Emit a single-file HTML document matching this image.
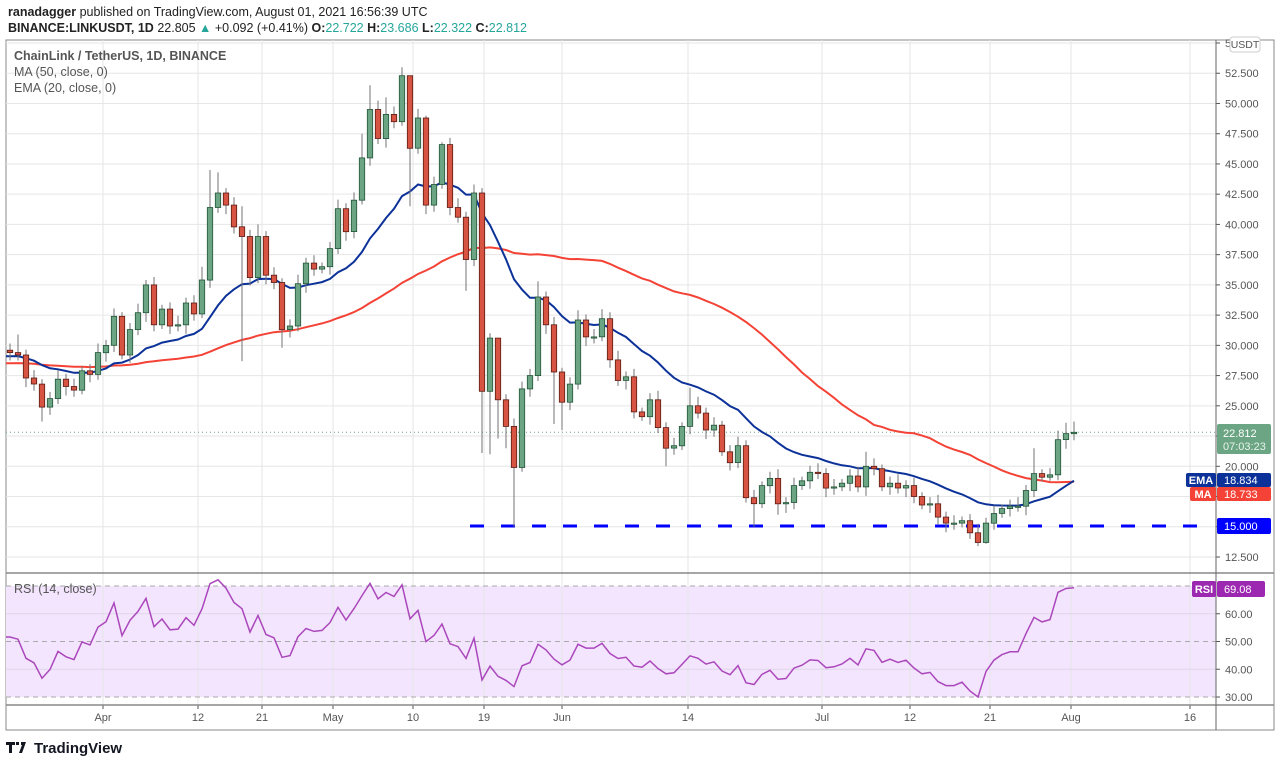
<!DOCTYPE html>
<html><head><meta charset="utf-8">
<style>
html,body{margin:0;padding:0;background:#fff;}
body{width:1280px;height:765px;overflow:hidden;font-family:"Liberation Sans",sans-serif;}
svg text{font-family:"Liberation Sans",sans-serif;}
</style></head>
<body>
<svg id="s" width="1280" height="765" xmlns="http://www.w3.org/2000/svg">
<text x="8" y="16" font-size="12.5" fill="#222"><tspan font-weight="bold">ranadagger</tspan> published on TradingView.com, August 01, 2021 16:56:39 UTC</text>
<text x="8" y="32" font-size="12.5" fill="#222"><tspan font-weight="bold">BINANCE:LINKUSDT, 1D</tspan>  22.805 <tspan fill="#26a69a">▲</tspan> +0.092 (+0.41%) <tspan font-weight="bold">O:</tspan><tspan fill="#26a69a">22.722</tspan> <tspan font-weight="bold">H:</tspan><tspan fill="#26a69a">23.686</tspan> <tspan font-weight="bold">L:</tspan><tspan fill="#26a69a">22.322</tspan> <tspan font-weight="bold">C:</tspan><tspan fill="#26a69a">22.812</tspan></text>
<g id="g"></g>
<text x="34" y="753" font-size="15" font-weight="bold" fill="#131722">TradingView</text>
<path d="M6 742h9v3h-3v8h-3v-8h-3z M16 742h3v3h-3z M21 742h5l-4 11h-3l3-8h-1z" fill="#131722"/>
</svg>
<script>
var closes=[29.4,29.2,27.3,26.8,24.9,25.6,27.2,26.6,26.3,27.9,27.6,29.4,30.0,32.4,29.2,31.3,32.7,35.0,31.7,33.0,31.6,31.7,33.5,32.6,35.4,41.4,42.6,41.6,39.8,39.0,35.6,39.0,35.8,35.2,31.3,31.6,35.1,36.8,36.3,36.5,38.0,41.3,39.4,42.0,45.5,49.5,47.1,49.1,48.5,52.3,46.3,48.8,41.6,43.3,46.6,41.4,40.6,37.1,42.6,26.2,30.6,25.5,23.3,19.9,26.4,27.5,34.0,31.7,27.8,25.3,26.8,32.1,30.7,30.7,32.2,28.8,27.1,27.4,24.5,24.1,25.5,23.2,21.5,21.7,23.3,25.0,24.4,23.0,23.4,21.2,20.3,21.7,17.4,16.9,18.4,19.0,16.9,17.0,18.4,18.8,19.5,19.4,18.2,18.3,18.6,19.2,18.3,20.0,19.8,18.3,18.6,18.2,18.4,17.5,16.8,16.9,15.8,15.3,15.3,15.5,14.5,13.7,15.3,16.1,16.5,16.7,16.7,18.0,19.4,19.1,19.3,22.2,22.7,22.812];
var hiO={2:30.9,5:27.2,18:35.4,25:36.5,26:44.5,27:44.3,28:43,30:41.5,32:40,45:47.5,46:51.5,48:50.5,50:53,51:50.1,53:49,55:46.8,59:43.3,60:43,61:31,62:30.5,65:27,67:35.3,72:32.9,75:33,86:26.5,108:21.2,129:21.5,133:23.6,134:23.7};
var loO={5:23.7,30:28.7,35:29.8,51:41.5,58:34.5,60:21.1,61:21,62:22.3,63:21.5,64:15,69:23.5,70:23,83:20,93:17,94:15,97:16,117:15.2,121:14,122:13.4,123:13.6,131:18.8};
function py(p){return 557-(p-12.5)*12.094;}
function ry(r){return 697-(r-30)*2.775;}
function cx(i){return 10+(i-1)*8.0;}
var h='';
// backgrounds
h+='<rect x="6" y="40" width="1268" height="690" fill="#fff" stroke="#888" stroke-width="1"/>';
// RSI band
h+='<rect x="6" y="586" width="1210" height="111" fill="#f3e5fd"/>';
// vertical grid
var vx=[103,198,262,333,413,484,562,688,822,910,990,1071,1190];
var vl=['Apr','12','21','May','10','19','Jun','14','Jul','12','21','Aug','16'];
for(var k=0;k<vx.length;k++){h+='<line x1="'+vx[k]+'" y1="40" x2="'+vx[k]+'" y2="705" stroke="#e6e6e6"/>';
h+='<line x1="'+vx[k]+'" y1="705" x2="'+vx[k]+'" y2="709" stroke="#555"/>';
h+='<text x="'+vx[k]+'" y="721" font-size="11" fill="#555" text-anchor="middle">'+vl[k]+'</text>';}
// horizontal grid price
for(var p=12.5;p<=55.01;p+=2.5){var y=py(p);if(y>40){h+='<line x1="6" y1="'+y+'" x2="1216" y2="'+y+'" stroke="#e6e6e6"/>';}
h+='<line x1="1216" y1="'+y+'" x2="1220" y2="'+y+'" stroke="#555"/>';
h+='<text x="1225" y="'+(y+4)+'" font-size="11" fill="#555">'+p.toFixed(3)+'</text>';}
// RSI grid
[70,60,50,40,30].forEach(function(r){var y=ry(r);var d=(r==70||r==50||r==30);
h+='<line x1="6" y1="'+y+'" x2="1216" y2="'+y+'" stroke="'+(d?'#aaa':'#e0d6e8')+'" '+(d?'stroke-dasharray="5,4"':'')+'/>';
if(r<70){h+='<line x1="1216" y1="'+y+'" x2="1220" y2="'+y+'" stroke="#555"/><text x="1225" y="'+(y+4)+'" font-size="11" fill="#555">'+r.toFixed(2)+'</text>';}});
// pane borders
h+='<line x1="6" y1="573" x2="1274" y2="573" stroke="#888" stroke-width="1.5"/>';
h+='<line x1="6" y1="705" x2="1274" y2="705" stroke="#888" stroke-width="1.5"/>';
h+='<line x1="1216" y1="40" x2="1216" y2="730" stroke="#666"/>';
// 15 support dashed
h+='<line x1="470" y1="526" x2="1200" y2="526" stroke="#0000ff" stroke-width="3" stroke-dasharray="14,17"/>';
// current price dotted
h+='<line x1="6" y1="'+py(22.812)+'" x2="1216" y2="'+py(22.812)+'" stroke="#6ba583" stroke-dasharray="1,3"/>';
// MA/EMA
var n=closes.length,ema=[],ma=[],e=29.2;var all=[];for(var i=0;i<49;i++)all.push(28.5);all=all.concat(closes);
for(var i=0;i<n;i++){e=i==0?29.1:e+(closes[i]-e)*2/21;ema.push(e);var s=0;for(var j=i;j<i+50;j++)s+=all[j];ma.push(s/50);}
function pl(arr,f){var d='';for(var i=0;i<arr.length;i++)d+=(i?'L':'M')+cx(i+1).toFixed(1)+' '+f(arr[i]).toFixed(1);return d;}
h+='<path d="M6 '+py(ma[0]).toFixed(1)+'L'+pl(ma,py).slice(1)+'" fill="none" stroke="#f44336" stroke-width="2"/>';
h+='<path d="M6 '+py(ema[0]).toFixed(1)+'L'+pl(ema,py).slice(1)+'" fill="none" stroke="#0c3299" stroke-width="2"/>';
// candles
var o=29.6;
for(var i=0;i<n;i++){var c=closes[i],idx=i+1,x=cx(idx);var up=c>=o;
var hi=hiO[idx]!==undefined?hiO[idx]:Math.max(o,c)+0.35+0.4*((idx*7)%5)/4;
var lo=loO[idx]!==undefined?loO[idx]:Math.min(o,c)-0.35-0.4*((idx*3)%5)/4;
h+='<line x1="'+x+'" y1="'+py(hi).toFixed(1)+'" x2="'+x+'" y2="'+py(lo).toFixed(1)+'" stroke="#737375"/>';
var t=py(Math.max(o,c)),b=py(Math.min(o,c));if(b-t<1.2)b=t+1.2;
h+='<rect x="'+(x-2.7)+'" y="'+t.toFixed(1)+'" width="5.4" height="'+(b-t).toFixed(1)+'" fill="'+(up?'#6ba583':'#d75442')+'" stroke="'+(up?'#225437':'#5b1a13')+'" stroke-width="0.8"/>';
o=c;}
// RSI
var ag=0.55,al=0.5,rs=[],prev=29.6;
for(var i=0;i<n;i++){var d=closes[i]-prev;prev=closes[i];var g=d>0?d:0,l=d<0?-d:0;ag=(ag*13+g)/14;al=(al*13+l)/14;var r=100-100/(1+ag/al);rs.push(r);}
h+='<path d="M6 '+ry(rs[0]).toFixed(1)+'L'+pl(rs,function(r){return ry(Math.max(30,Math.min(82,r)));}).slice(1)+'" fill="none" stroke="#ab47bc" stroke-width="1.5"/>';
// legends
h+='<text x="14" y="60" font-size="12.5" fill="#555" font-weight="bold">ChainLink / TetherUS, 1D, BINANCE</text>';
h+='<text x="14" y="76" font-size="12.5" fill="#555">MA (50, close, 0)</text>';
h+='<text x="14" y="92" font-size="12.5" fill="#555">EMA (20, close, 0)</text>';
h+='<text x="14" y="593" font-size="12.5" fill="#555">RSI (14, close)</text>';
// right labels
h+='<rect x="1230" y="37" width="30" height="15" rx="3" fill="#fff" stroke="#ccc"/><text x="1245" y="48" font-size="10.5" fill="#555" text-anchor="middle">USDT</text>';
h+='<rect x="1217" y="424" width="54" height="30" rx="2" fill="#6ba583"/><text x="1223" y="437" font-size="11" fill="#fff">22.812</text><text x="1223" y="450" font-size="11" fill="#e8f3ec">07:03:23</text>';
h+='<rect x="1186" y="473" width="30" height="14" rx="2" fill="#0c3299"/><text x="1201" y="484" font-size="11" fill="#fff" text-anchor="middle" font-weight="bold">EMA</text>';
h+='<rect x="1217" y="473" width="54" height="14" rx="2" fill="#0c3299"/><text x="1224" y="484" font-size="11" fill="#fff">18.834</text>';
h+='<rect x="1190" y="487" width="26" height="14" rx="2" fill="#f44336"/><text x="1203" y="498" font-size="11" fill="#fff" text-anchor="middle" font-weight="bold">MA</text>';
h+='<rect x="1217" y="487" width="54" height="14" rx="2" fill="#f44336"/><text x="1224" y="498" font-size="11" fill="#fff">18.733</text>';
h+='<rect x="1217" y="518" width="54" height="16" rx="2" fill="#0000ff"/><text x="1224" y="530" font-size="11" fill="#fff">15.000</text>';
h+='<rect x="1192" y="581" width="24" height="16" rx="2" fill="#9c27b0"/><text x="1204" y="593" font-size="11" fill="#fff" text-anchor="middle" font-weight="bold">RSI</text>';
h+='<rect x="1217" y="581" width="48" height="16" rx="2" fill="#9c27b0"/><text x="1224" y="593" font-size="11" fill="#fff">69.08</text>';
document.getElementById('g').innerHTML=h;
</script>
</body></html>
